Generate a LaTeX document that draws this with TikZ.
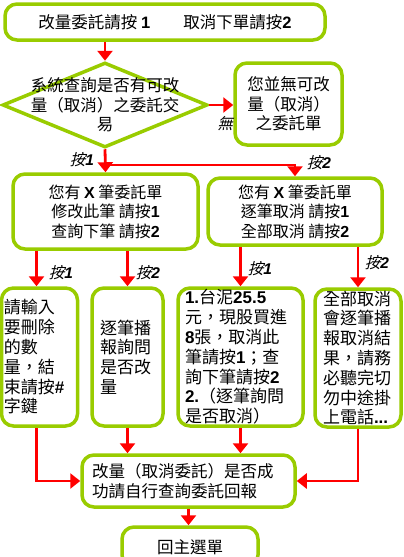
\documentclass[tikz,border=0pt]{standalone}
\usepackage{fontspec}
\usepackage{xcolor}
\setmainfont{Noto Sans CJK TC}
\newfontfamily\latinb{Liberation Sans}
\newfontfamily\slantcjk{Noto Sans CJK TC}[FakeSlant=0.25]
\usetikzlibrary{positioning, shapes.geometric, arrows.meta}
\definecolor{leafgreen}{HTML}{99CC00}
\definecolor{arrowred}{HTML}{FF0000}
\newcommand{\bnum}[1]{{\latinb\bfseries #1}}
\newcommand{\presslbl}[1]{{\slantcjk 按}{\latinb\bfseries\itshape #1}}

\begin{document}
\begin{tikzpicture}[
    x=1pt, y=-1pt,
    every node/.style={font=\fontsize{16.5}{19.5}\selectfont},
    box/.style={rectangle, rounded corners=12pt, draw=leafgreen, line width=3.5pt, fill=white, inner sep=0pt, align=center},
    tallbox/.style={box, align=left, minimum height=138pt, font=\fontsize{17}{19.8}\selectfont},
    check/.style={diamond, draw=leafgreen, line width=3.5pt, fill=white, inner sep=0pt, minimum width=205pt, minimum height=85pt},
    arr/.style={draw=arrowred, line width=2.8pt, -{Triangle[length=10pt,width=15pt]}},
    press/.style={font=\fontsize{15.5}{15.5}\selectfont, inner sep=0pt}
]
    \clip (0,0) rectangle (404,557);
    \fill[white] (0,0) rectangle (404,557);

    % Main menu and query
    \node[box, minimum width=320pt, minimum height=36pt] (menu) at (165,22) {改量委託請按 \bnum{1}\hspace{2em}取消下單請按\bnum{2}};
    \node[check] (query) at (105,105) {};
    \node[align=center] (querytext) at (query) {系統查詢是否有可改\\量（取消）之委託交\\易};
    \node[box, minimum width=107pt, minimum height=82pt] (none) at (288.5,104) {您並無可改\\量（取消）\\之委託單};

    % Second level
    \node[box, minimum width=185pt, minimum height=75pt, font=\fontsize{16}{19.5}\selectfont] (modify) at (105.5,211.5) {您有 \bnum{X} 筆委託單\\修改此筆 請按\bnum{1}\\查詢下筆 請按\bnum{2}};
    \node[box, minimum width=174pt, minimum height=67pt, font=\fontsize{16}{19.5}\selectfont] (cancel) at (295,211.5) {您有 \bnum{X} 筆委託單\\逐筆取消 請按\bnum{1}\\全部取消 請按\bnum{2}};

    % Third level
    \node[tallbox, minimum width=76pt, text width=71pt] (delqty) at (39.5,357) {請輸入\\要刪除\\的數\\量，結\\束請按\bnum{\#}\\字鍵};
    \node[tallbox, minimum width=71pt, text width=55pt] (onebyone) at (127.5,357) {逐筆播\\報詢問\\是否改\\量};
    \node[tallbox, minimum width=125pt, text width=111pt] (confirm) at (240.5,357) {\bnum{1.}台泥\bnum{25.5}\\元，現股買進\\\bnum{8}張，取消此\\筆請按\bnum{1}；查\\詢下筆請按\bnum{2}\\\bnum{2.}（逐筆詢問\\是否取消）};
    \node[tallbox, minimum width=86pt, text width=70pt] (cancelall) at (358,358) {全部取消\\會逐筆播\\報取消結\\果，請務\\必聽完切\\勿中途掛\\上電話\bnum{...}};

    % Result and back
    \node[box, align=left, minimum width=213pt, minimum height=52pt, text width=193pt] (result) at (188.5,481) {改量（取消委託）是否成\\功請自行查詢委託回報};
    \node[box, minimum width=136pt, minimum height=40pt] (back) at (190,547) {回主選單};

    % Arrows
    \coordinate (split) at (105,165);
    \draw[arr] (query.north |- menu.south) -- (query.north);
    \draw[arr] (query.east) -- (query.east -| none.west);
    \draw[arr] (query.south) -- (modify.north);
    \draw[arr] (split) -| (cancel.north);

    \draw[arr] ([xshift=-3pt]delqty.north |- modify.south) -- ([xshift=-3pt]delqty.north);
    \draw[arr] (onebyone.north |- modify.south) -- (onebyone.north);
    \draw[arr] (confirm.north |- cancel.south) -- (confirm.north);
    \draw[arr] (cancelall.north |- cancel.south) -- (cancelall.north);

    \draw[arr] ([xshift=-3pt]delqty.south) |- (result.west);
    \draw[arr] (onebyone.south) -- (onebyone.south |- result.north);
    \draw[arr] (confirm.south) -- (confirm.south |- result.north);
    \draw[arr] (cancelall.south) |- (result.east);
    \draw[arr] (result.south) -- (result.south |- back.north);

    % Labels
    \node[press] (nolbl) at (225,124) {{\slantcjk 無}};
    \node[press] (top1) at (82,160) {\presslbl{1}};
    \node[press] (top2) at (319,163) {\presslbl{2}};
    \node[press] (left1) at (61,273) {\presslbl{1}};
    \node[press] (left2) at (148,273) {\presslbl{2}};
    \node[press] (right1) at (260,269) {\presslbl{1}};
    \node[press] (right2) at (377,263) {\presslbl{2}};
\end{tikzpicture}
\end{document}
